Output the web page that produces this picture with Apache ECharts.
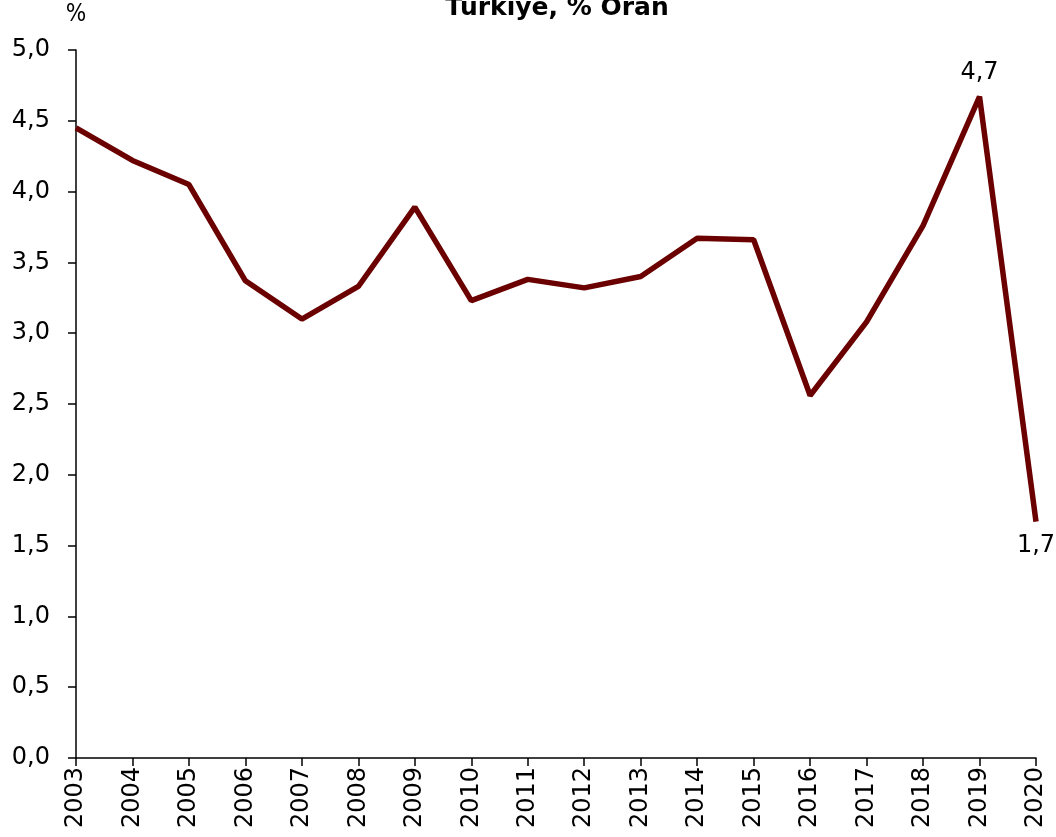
<!DOCTYPE html>
<html>
<head>
    <meta charset="utf-8">
    <title>Türkiye, % Oran</title>
    <script src="https://cdn.jsdelivr.net/npm/echarts@6/dist/echarts.min.js"></script>
    <style>
        html, body { margin: 0; padding: 0; background: #fff; }
        #chart { width: 1056px; height: 837px; }
    </style>
</head>
<body>
    <div id="chart"></div>
    <script>
        // years and rate (%)
        const years = ['2003', '2004', '2005', '2006', '2007', '2008', '2009', '2010', '2011',
            '2012', '2013', '2014', '2015', '2016', '2017', '2018', '2019', '2020'];
        const rates = [4.45, 4.22, 4.05, 3.37, 3.10, 3.33, 3.89, 3.23, 3.38,
            3.32, 3.40, 3.67, 3.66, 2.56, 3.08, 3.76, 4.67, 1.67];
        // only the last two points carry a label
        const labelled = { 16: 'top', 17: 'bottom' };

        const fmt = v => v.toFixed(1).replace('.', ',');
        const font = 'DejaVu Sans, Verdana, sans-serif';

        const seriesData = rates.map((v, i) => {
            if (!(i in labelled)) return v;
            return {
                value: v,
                label: {
                    show: true,
                    position: labelled[i],
                    distance: 12,
                    formatter: p => fmt(p.value),
                    fontSize: 24,
                    fontFamily: font,
                    color: '#000'
                }
            };
        });

        const chart = echarts.init(document.getElementById('chart'));
        chart.setOption({
            animation: false,
            title: {
                text: 'Türkiye, % Oran',
                left: 552,
                top: -9,
                textAlign: 'center',
                textStyle: { fontSize: 25, fontWeight: 'bold', fontFamily: font, color: '#000' }
            },
            grid: { left: 76, right: 20, top: 50, bottom: 79, containLabel: false },
            xAxis: {
                type: 'category',
                data: years,
                boundaryGap: false,
                axisLine: { lineStyle: { color: '#000', width: 1.5 } },
                axisTick: { show: true, alignWithLabel: true, length: 8, lineStyle: { color: '#000', width: 1.5 } },
                axisLabel: { rotate: 90, interval: 0, fontSize: 24, fontFamily: font, color: '#000', margin: 9 }
            },
            yAxis: {
                type: 'value',
                min: 0,
                max: 5,
                interval: 0.5,
                name: '%',
                nameLocation: 'end',
                nameGap: 23,
                nameTextStyle: { fontSize: 24, fontFamily: 'DejaVu Sans Condensed, DejaVu Sans, sans-serif', color: '#000', align: 'center' },
                splitLine: { show: false },
                axisLine: { show: true, lineStyle: { color: '#000', width: 1.5 } },
                axisTick: { show: true, inside: false, length: 8, lineStyle: { color: '#000', width: 1.5 } },
                axisLabel: { formatter: v => fmt(v), fontSize: 24, fontFamily: font, color: '#000', margin: 26 }
            },
            series: [{
                type: 'line',
                data: seriesData,
                symbol: 'circle',
                symbolSize: 0,
                showSymbol: true,
                lineStyle: { color: '#6b0000', width: 5.5 },
                itemStyle: { color: '#6b0000' }
            }]
        });
    </script>
</body>
</html>
